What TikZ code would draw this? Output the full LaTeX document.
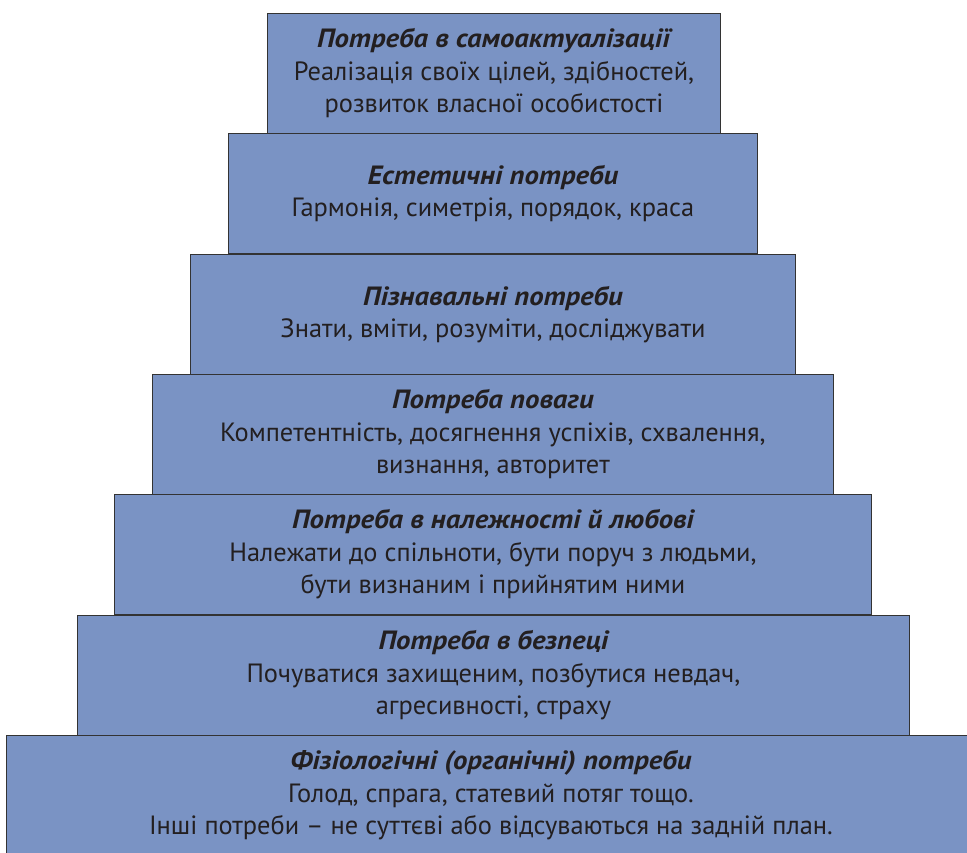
\documentclass[tikz,border=0pt]{standalone}
\usepackage{fontspec}
\setmainfont{PT Sans}
\newfontfamily\ttlfont[FakeStretch=1.09]{PT Sans}
\definecolor{boxblue}{HTML}{7A93C4}
\definecolor{edge}{HTML}{333333}
\definecolor{ink}{HTML}{231F20}
\newcommand{\ttl}[1]{{\ttlfont\bfseries\itshape #1}}
\begin{document}
\begin{tikzpicture}[x=1pt,y=-1pt,
  level/.style={draw=edge, line width=0.9pt, fill=boxblue, align=center,
    inner sep=0pt, anchor=north west, text=ink,
    font=\fontsize{26.4}{32.5}\selectfont}]
\useasboundingbox (0,0) rectangle (967,853);
\clip (0,0) rectangle (967,853);
\node[level, minimum width=969pt, minimum height=120pt] (l7) at (6,735)
  {\ttl{Фізіологічні (органічні) потреби}\\
   Голод, спрага, статевий потяг тощо.\\
   Інші потреби – не суттєві або відсуваються на задній план.};
\node[level, minimum width=832pt, minimum height=120pt] (l6) at (77,615)
  {\ttl{Потреба в безпеці}\\
   Почуватися захищеним, позбутися невдач,\\
   агресивності, страху};
\node[level, minimum width=757pt, minimum height=120pt] (l5) at (114,494)
  {\ttl{Потреба в належності й любові}\\
   Належати до спільноти, бути поруч з людьми,\\
   бути визнаним і прийнятим ними};
\node[level, minimum width=681pt, minimum height=120pt] (l4) at (152,374)
  {\ttl{Потреба поваги}\\
   Компетентність, досягнення успіхів, схвалення,\\
   визнання, авторитет};
\node[level, minimum width=605pt, minimum height=120pt] (l3) at (190,254)
  {\ttl{Пізнавальні потреби}\\
   Знати, вміти, розуміти, досліджувати};
\node[level, minimum width=529pt, minimum height=120pt] (l2) at (228,133)
  {\ttl{Естетичні потреби}\\
   Гармонія, симетрія, порядок, краса};
\node[level, minimum width=453pt, minimum height=120pt] (l1) at (267,13)
  {\ttl{Потреба в самоактуалізації}\\
   Реалізація своїх цілей, здібностей,\\
   розвиток власної особистості};
\end{tikzpicture}
\end{document}
